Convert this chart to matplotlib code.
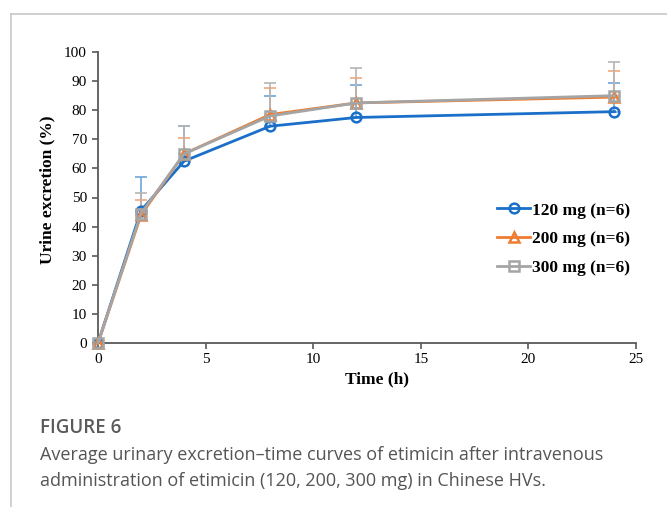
import matplotlib
matplotlib.use("Agg")
import matplotlib.pyplot as plt
from matplotlib.lines import Line2D

time_h = [0, 2, 4, 8, 12, 24]
labels = ["120 mg (n=6)", "200 mg (n=6)", "300 mg (n=6)"]
mean_120 = [0, 45.5, 62.5, 74.5, 77.5, 79.5]
mean_200 = [0, 44.0, 65.0, 78.5, 82.5, 84.5]
mean_300 = [0, 44.5, 65.0, 78.0, 82.5, 85.0]
sd_120 = [0, 11.5, 12.0, 10.5, 11.0, 10.0]
sd_200 = [0, 5.0, 5.5, 9.0, 8.5, 9.0]
sd_300 = [0, 7.0, 9.5, 11.5, 12.0, 11.5]
x_ticks = [0, 5, 10, 15, 20, 25]
y_ticks = [0, 10, 20, 30, 40, 50, 60, 70, 80, 90, 100]

W, H = 667, 507
fig = plt.figure(figsize=(W / 100, H / 100), dpi=100)
fig.patch.set_facecolor("white")

# outer frame lines
fig.add_artist(Line2D([11 / W, 11 / W], [0, 1 - 14 / H], transform=fig.transFigure, color="#c8c8c8", lw=1.2))
fig.add_artist(Line2D([11 / W, 1], [1 - 14 / H, 1 - 14 / H], transform=fig.transFigure, color="#c8c8c8", lw=1.2))

left, right, top, bottom = 98, 636, 52, 343
ax = fig.add_axes([left / W, 1 - bottom / H, (right - left) / W, (bottom - top) / H])

serif = "Liberation Serif"
series = [
    (mean_120, sd_120, "#1a6fc9", "o", labels[0], "#6fa4dc"),
    (mean_200, sd_200, "#ef7d31", "^", labels[1], "#f4a877"),
    (mean_300, sd_300, "#a5a5a5", "s", labels[2], "#b5b5b5"),
]
handles = []
for mean, sd, c, m, lab, ec in series:
    ax.errorbar(time_h, mean, yerr=[[0] * len(sd), sd], fmt="none", ecolor=ec,
                elinewidth=1.2, capsize=4, capthick=1.2, clip_on=False, zorder=2)
for mean, sd, c, m, lab, ec in series:
    h, = ax.plot(time_h, mean, color=c, lw=2, marker=m, markersize=7,
                 markerfacecolor="none", markeredgecolor=c, markeredgewidth=1.8,
                 clip_on=False, zorder=3, label=lab)
    handles.append(h)

ax.set_xlim(0, 25)
ax.set_ylim(0, 100)
ax.set_xticks(x_ticks)
ax.set_yticks(y_ticks)
for s in ["top", "right"]:
    ax.spines[s].set_visible(False)
for s in ["left", "bottom"]:
    ax.spines[s].set_color("#595959")
    ax.spines[s].set_linewidth(1.3)
ax.tick_params(axis="both", direction="out", length=4, width=1.2, color="#595959",
               labelsize=11, labelcolor="black")
ax.tick_params(axis="y", pad=4)
for t in ax.get_xticklabels() + ax.get_yticklabels():
    t.set_fontfamily(serif)

ax.set_xlabel("Time (h)", fontfamily=serif, fontweight="bold", fontsize=12.5)
ax.xaxis.set_label_coords(0.518, -0.098)
ax.set_ylabel("Urine excretion (%)", fontfamily=serif, fontweight="bold", fontsize=12.5)
ax.yaxis.set_label_coords(-0.08, 0.526)

leg = ax.legend(handles=handles, loc="center left", bbox_to_anchor=(0.729, 0.357), frameon=False,
                prop={"family": serif, "weight": "bold", "size": 12.5}, handlelength=1.9,
                handletextpad=0.1, labelspacing=0.72, borderaxespad=0)

fig.text(40 / W, 1 - 428 / H, "FIGURE 6", fontfamily="Open Sans", fontsize=13.5, fontweight="semibold",
         color="#5a5a5a", va="center", ha="left")
fig.text(40 / W, 1 - 455 / H, "Average urinary excretion\u2013time curves of etimicin after intravenous",
         fontfamily="Open Sans", fontsize=13, color="#555555", va="center", ha="left")
fig.text(40 / W, 1 - 481 / H, "administration of etimicin (120, 200, 300 mg) in Chinese HVs.",
         fontfamily="Open Sans", fontsize=13, color="#555555", va="center", ha="left")

fig.savefig("out.png", dpi=100)
